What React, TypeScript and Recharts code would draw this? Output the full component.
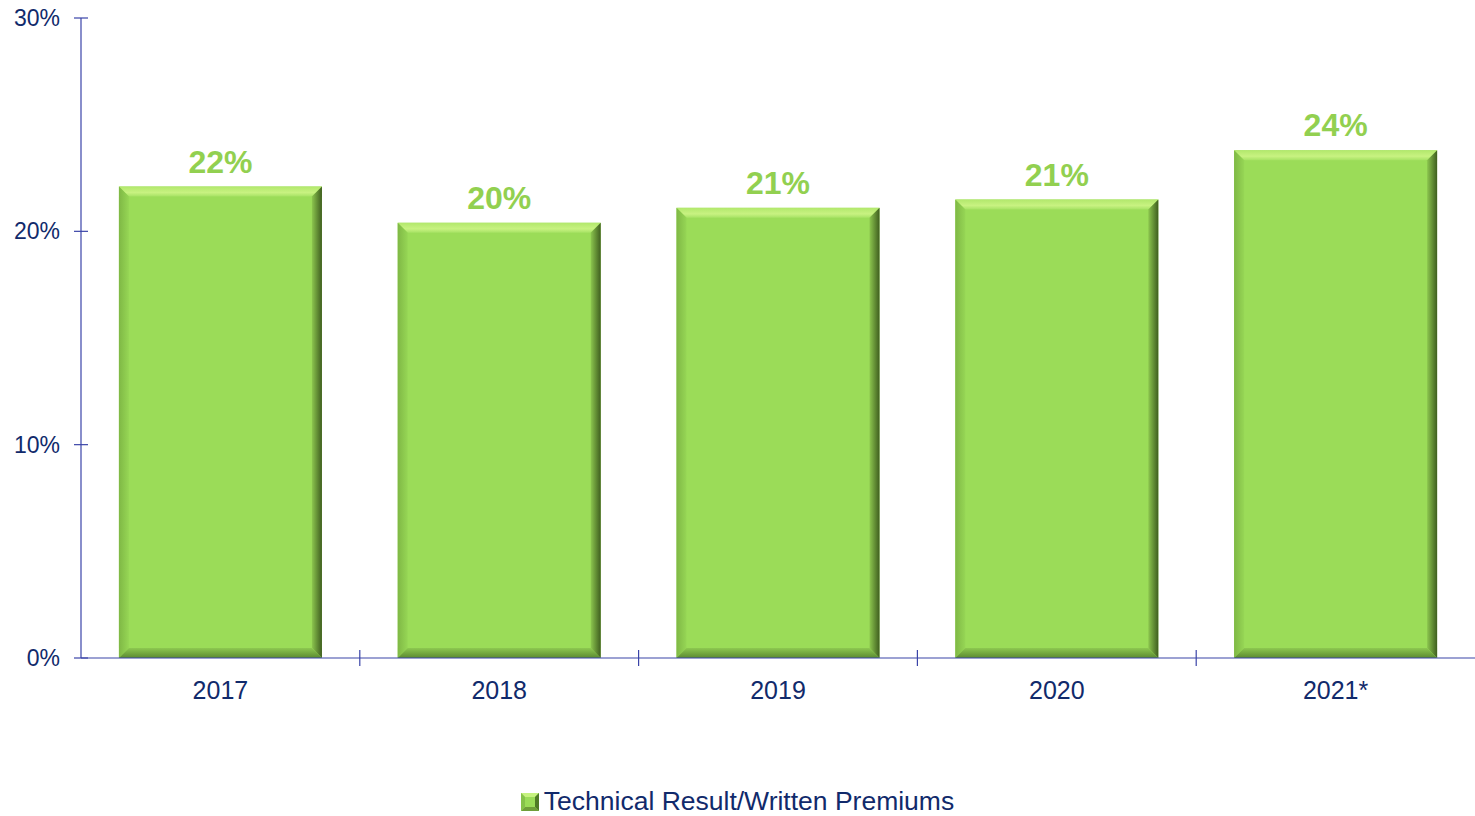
import React from 'react';
import { BarChart, Bar, XAxis, YAxis, Legend, LabelList } from 'recharts';

const years = ['2017', '2018', '2019', '2020', '2021*'];
const ratio = [22.1, 20.4, 21.1, 21.49, 23.8];
const yTicks = [0, 10, 20, 30];
const seriesName = 'Technical Result/Written Premiums';

const data = years.map((year, i) => ({ year, ratio: ratio[i] }));

const W = 1475;
const H = 816;
const AXIS = '#3a44a8';
const NAVY = '#112a6b';
const GREEN = '#9bdc58';
const FONT = '"Liberation Sans", Arial, sans-serif';
const PLOT_LEFT = 81;
const BAND = (W - PLOT_LEFT) / years.length;

// bevelled bar, like the office 3d preset
const BevelBar = (props: any) => {
  const { x, y, width: w, height: h } = props;
  if (!w || !h) return null;
  const b = 10;
  return (
    <g>
      <rect x={x} y={y} width={w} height={h} fill={GREEN} />
      <polygon points={`${x},${y} ${x + w},${y} ${x + w - b},${y + b} ${x + b},${y + b}`} fill="url(#bevTop)" />
      <polygon points={`${x},${y} ${x + b},${y + b} ${x + b},${y + h - b} ${x},${y + h}`} fill="url(#bevLeft)" />
      <polygon points={`${x + w},${y} ${x + w},${y + h} ${x + w - b},${y + h - b} ${x + w - b},${y + b}`} fill="url(#bevRight)" />
      <polygon points={`${x},${y + h} ${x + w},${y + h} ${x + w - b},${y + h - b} ${x + b},${y + h - b}`} fill="url(#bevBottom)" />
    </g>
  );
};

const YTick = (props: any) => {
  const { x, y, payload } = props;
  return (
    <g>
      <line x1={x - 7} x2={x + 7} y1={y} y2={y} stroke={AXIS} strokeWidth={1.2} />
      <text x={x - 21} y={y} dy={8} textAnchor="end" fill={NAVY} fontSize={23} fontFamily={FONT}>
        {payload.value}%
      </text>
    </g>
  );
};

const XTick = (props: any) => {
  const { x, y, payload, index } = props;
  const bx = x + BAND / 2;
  return (
    <g>
      {index < years.length - 1 && (
        <line x1={bx} x2={bx} y1={y - 8} y2={y + 8} stroke={AXIS} strokeWidth={1.2} />
      )}
      <text x={x} y={y + 41} textAnchor="middle" fill={NAVY} fontSize={25} fontFamily={FONT}>
        {payload.value}
      </text>
    </g>
  );
};

const LegendBox = () => (
  <div style={{ display: 'flex', justifyContent: 'center', alignItems: 'center', fontFamily: FONT, fontSize: 26.5, color: NAVY }}>
    <svg width={21} height={18} style={{ marginRight: 2 }}>
      <rect x={0} y={0} width={18} height={18} fill={GREEN} />
      <polygon points="0,0 18,0 14,4 4,4" fill="#c6f27f" />
      <polygon points="18,0 18,18 14,14 14,4" fill="#4f7a26" />
      <polygon points="0,18 18,18 14,14 4,14" fill="#6f9e3a" />
      <polygon points="0,0 4,4 4,14 0,18" fill="#86c24a" />
    </svg>
    <span>{seriesName}</span>
  </div>
);

export default function App() {
  return (
    <div style={{ position: 'absolute', left: 0, top: 0, background: '#fff' }}>
      <BarChart
        width={W}
        height={H}
        data={data}
        margin={{ top: 18, right: 0, left: 0, bottom: 77 }}
        barCategoryGap="13.6%"
      >
        <defs>
          <linearGradient id="bevTop" x1="0" y1="0" x2="0" y2="1">
            <stop offset="0%" stopColor="#b2e86c" />
            <stop offset="60%" stopColor="#c8f281" />
            <stop offset="100%" stopColor="#a6e264" />
          </linearGradient>
          <linearGradient id="bevLeft" x1="0" y1="0" x2="1" y2="0">
            <stop offset="0%" stopColor="#7fb845" />
            <stop offset="100%" stopColor="#96d655" />
          </linearGradient>
          <linearGradient id="bevRight" x1="0" y1="0" x2="1" y2="0">
            <stop offset="0%" stopColor="#8cc64e" />
            <stop offset="100%" stopColor="#3f5e1f" />
          </linearGradient>
          <linearGradient id="bevBottom" x1="0" y1="0" x2="0" y2="1">
            <stop offset="0%" stopColor="#8dc850" />
            <stop offset="100%" stopColor="#5b8a30" />
          </linearGradient>
        </defs>
        <XAxis
          dataKey="year"
          stroke={AXIS}
          strokeWidth={1.2}
          tickLine={false}
          tickSize={0}
          tickMargin={0}
          height={50}
          tick={<XTick />}
          interval={0}
        />
        <YAxis
          domain={[0, 30]}
          ticks={yTicks}
          stroke={AXIS}
          strokeWidth={1.2}
          tickLine={false}
          tickSize={0}
          tickMargin={0}
          width={PLOT_LEFT}
          tick={<YTick />}
          interval={0}
        />
        <Legend
          verticalAlign="bottom"
          content={<LegendBox />}
          wrapperStyle={{ position: 'absolute', left: 0, width: W, top: 786 }}
        />
        <Bar dataKey="ratio" name={seriesName} shape={<BevelBar />} isAnimationActive={false}>
          <LabelList
            dataKey="ratio"
            position="top"
            offset={14}
            formatter={(v: any) => `${Math.round(v)}%`}
            fill="#92d050"
            fontSize={32}
            fontWeight="bold"
            fontFamily={FONT}
          />
        </Bar>
      </BarChart>
    </div>
  );
}
